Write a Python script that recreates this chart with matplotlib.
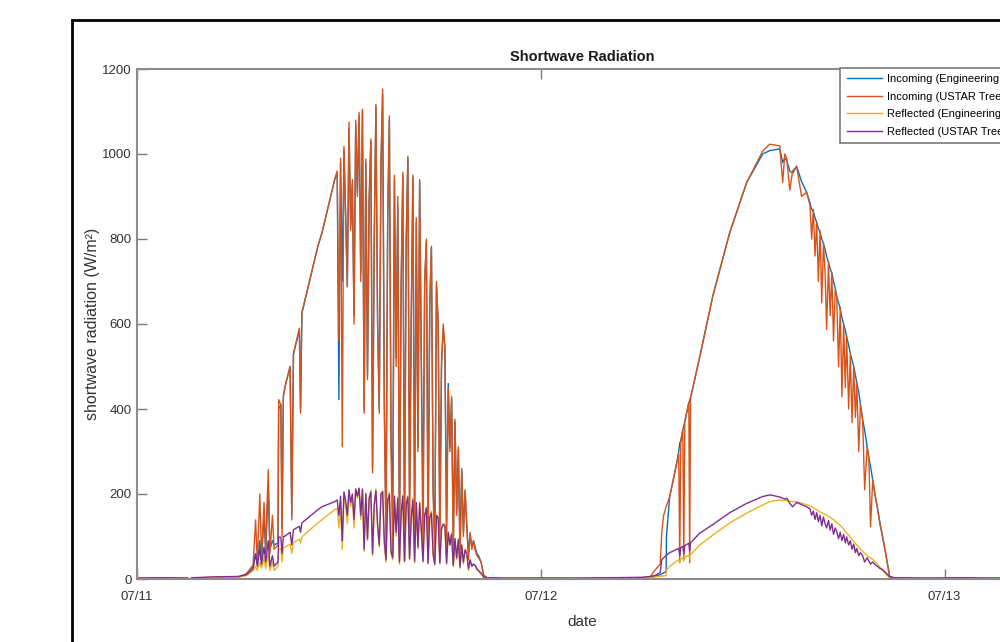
import matplotlib
matplotlib.use("Agg")
import matplotlib.pyplot as plt
from matplotlib.patches import Rectangle

# hours since 07/11 00:00, values in W/m^2
hours_day1 = [0.0, 1.5, 3.0, 3.1, 3.3, 4.5, 6.0, 6.5, 6.9, 7.05, 7.15, 7.3, 7.4, 7.55, 7.65, 7.8, 7.9,
              8.05, 8.15, 8.38, 8.42, 8.55, 8.62, 8.7, 8.8, 9.1, 9.2, 9.3, 9.65, 9.72, 9.8, 10.75,
              11.0, 11.75, 11.9,
              12.0, 12.1, 12.2, 12.3, 12.4, 12.5, 12.6, 12.7, 12.8, 12.9,
              13.0, 13.1, 13.2, 13.3, 13.4, 13.5, 13.6, 13.7, 13.8, 13.9,
              14.0, 14.1, 14.2, 14.3, 14.4, 14.5, 14.6, 14.7, 14.8, 14.9,
              15.0, 15.1, 15.2, 15.3, 15.4, 15.5, 15.6, 15.7, 15.8, 15.9,
              16.0, 16.1, 16.2, 16.3, 16.4, 16.5, 16.6, 16.7, 16.8, 16.9,
              17.0, 17.1, 17.2, 17.3, 17.4, 17.5, 17.6, 17.7, 17.8, 17.9,
              18.0, 18.1, 18.2, 18.3, 18.4, 18.5, 18.6, 18.7, 18.8, 18.9,
              19.0, 19.1, 19.2, 19.3, 19.4, 19.5, 19.6, 19.7, 19.8, 19.9,
              20.0, 20.1, 20.2, 20.3, 20.45, 20.6, 20.8, 22.0]
inc_eng_day1 = [3, 3, 2, -2, 3, 3, 4, 12, 30, 60, 35, 90, 40, 150, 60, 220, 70,
                90, 80, 85, 400, 410, 120, 430, 453, 500, 150, 530, 585, 400, 625, 783,
                815, 940, 955,
                422, 980, 700, 1010, 860, 688, 1060, 830, 930, 620,
                1070, 910, 1090, 720, 1100, 400, 980, 480, 890, 1030,
                260, 790, 1110, 610, 400, 970, 1140, 420, 120, 840,
                1080, 320, 200, 940, 520, 880, 95, 690, 950, 120,
                790, 990, 200, 620, 945, 160, 840, 310, 935, 520,
                160, 700, 795, 120, 640, 780, 220, 95, 690, 600,
                135, 510, 590, 545, 140, 460, 310, 425, 95, 370,
                160, 305, 80, 255, 110, 205, 130, 60, 105, 75,
                90, 75, 60, 55, 40, 8, 3, 3]
inc_ustar_day1 = [3, 2, 3, -3, 3, 3, 4, 12, 33, 139, 40, 200, 50, 180, 70, 257, 60,
                  150, 70, 80, 422, 410, 100, 430, 453, 500, 139, 530, 590, 390, 627, 783,
                  815, 940, 960,
                  560, 990, 311, 1018, 850, 688, 1075, 820, 940, 600,
                  1080, 900, 1098, 700, 1105, 390, 988, 469, 900, 1035,
                  250, 800, 1117, 600, 390, 980, 1153, 400, 70, 850,
                  1090, 300, 60, 950, 500, 900, 50, 700, 957, 45,
                  800, 995, 80, 600, 950, 60, 850, 300, 940, 500,
                  50, 700, 800, 40, 650, 783, 200, 50, 700, 603,
                  45, 500, 600, 548, 60, 450, 300, 430, 40, 376,
                  150, 311, 40, 260, 100, 210, 123, 45, 110, 70,
                  90, 68, 55, 50, 40, 10, 3, 2]
ref_eng_day1 = [2, 2, 2, 0, 2, 4, 4, 8, 20, 30, 20, 40, 25, 50, 25, 60, 20,
                40, 20, 30, 70, 72, 40, 74, 75, 82, 60, 86, 94, 85, 99, 132,
                140, 163, 166,
                120, 170, 70, 190, 175, 130, 205, 170, 195, 120,
                210, 190, 212, 140, 210, 65, 203, 90, 190, 208,
                55, 170, 212, 120, 75, 200, 208, 80, 40, 180,
                203, 60, 45, 195, 100, 193, 35, 150, 198, 40,
                170, 196, 45, 140, 190, 38, 180, 70, 182, 110,
                40, 150, 170, 35, 145, 160, 55, 33, 150, 148,
                35, 120, 130, 130, 35, 110, 80, 110, 30, 95,
                45, 95, 25, 80, 35, 70, 62, 20, 45, 30,
                35, 32, 22, 18, 12, 4, 2, 3]
ref_ustar_day1 = [2, 3, 2, 0, 3, 5, 6, 10, 24, 60, 30, 70, 35, 75, 40, 90, 30,
                  55, 30, 40, 99, 98, 60, 100, 101, 110, 80, 116, 124, 110, 132, 163,
                  170, 182, 186,
                  150, 195, 90, 205, 185, 150, 210, 180, 200, 140,
                  212, 195, 214, 150, 212, 70, 200, 95, 190, 205,
                  60, 175, 208, 130, 80, 200, 205, 90, 45, 185,
                  200, 65, 50, 195, 110, 190, 40, 155, 195, 42,
                  175, 193, 48, 145, 186, 42, 180, 75, 178, 115,
                  42, 150, 166, 38, 145, 155, 60, 35, 150, 143,
                  38, 118, 128, 125, 37, 110, 80, 105, 32, 95,
                  50, 92, 28, 80, 40, 68, 60, 25, 45, 30,
                  35, 32, 24, 20, 14, 5, 3, 2]

hours_day2 = [24.0, 26.0, 28.0, 30.0, 30.5, 30.77, 31.1, 31.19, 31.3, 31.45, 31.47, 31.66, 32.08,
              32.2, 32.26, 32.32, 32.44, 32.5, 32.56, 32.8, 32.85, 32.9, 32.97, 33.45, 34.22,
              35.23, 36.24, 37.19, 37.61, 38.2, 38.38, 38.5, 38.62, 38.8, 38.97, 39.21, 39.5, 39.8,
              40.0, 40.1, 40.2, 40.3, 40.4, 40.5, 40.6, 40.7, 40.8, 40.9, 40.99,
              41.1, 41.2, 41.3, 41.4, 41.5, 41.59, 41.7, 41.8, 41.9, 42.0, 42.1, 42.18,
              42.3, 42.4, 42.5, 42.6, 42.7, 42.78, 42.9, 43.0, 43.13, 43.25, 43.4, 43.5,
              43.6, 43.73, 43.9, 44.0, 44.15, 44.32, 44.5, 44.74,
              45.0, 47.0, 49.0, 51.0, 53.0]
inc_eng_day2 = [3, 2, 3, 3, 4, 6, 10, 12, 14, 18, 100, 193, 273,
                300, 320, 325, 351, 360, 370, 415, 420, 428, 438, 523, 665,
                815, 933, 1000, 1008, 1012, 980, 990, 985, 960, 955, 971, 935, 910,
                885, 870, 865, 850, 839, 825, 815, 800, 790, 775, 759,
                745, 730, 720, 700, 685, 665, 650, 635, 615, 600, 585, 570,
                550, 530, 515, 500, 480, 462, 440, 410, 375, 350, 310, 285,
                265, 233, 190, 170, 135, 99, 60, 5,
                3, 3, 2, 3, 3]
inc_ustar_day2 = [3, 3, 2, 3, 5, 20, 35, 110, 150, 170, 172, 193, 273,
                  295, 38, 320, 351, 45, 370, 415, 38, 428, 438, 523, 665,
                  815, 933, 1007, 1023, 1019, 933, 1000, 990, 915, 960, 971, 900, 910,
                  880, 800, 870, 760, 839, 700, 820, 650, 790, 720, 587,
                  745, 620, 720, 560, 680, 665, 500, 640, 429, 600, 450, 570,
                  400, 530, 368, 500, 380, 462, 300, 410, 375, 210, 310, 285,
                  123, 233, 190, 170, 130, 99, 60, 5,
                  3, 2, 3, 3, 3]
ref_eng_day2 = [2, 3, 2, 3, 4, 5, 6, 7, 7, 8, 21, 30, 42,
                45, 40, 47, 50, 42, 52, 56, 48, 58, 60, 80, 103,
                132, 155, 174, 182, 186, 184, 186, 185, 183, 182, 182, 178, 175,
                172, 170, 168, 165, 163, 160, 158, 156, 154, 152, 150,
                147, 145, 142, 140, 136, 133, 130, 126, 122, 118, 112, 108,
                103, 98, 93, 88, 84, 80, 75, 70, 65, 60, 55, 52,
                50, 46, 40, 35, 28, 20, 12, 3,
                2, 3, 2, 3, 2]
ref_ustar_day2 = [2, 2, 3, 4, 6, 8, 15, 45, 50, 55, 56, 62, 70,
                  72, 55, 74, 77, 60, 79, 84, 66, 86, 88, 108, 128,
                  156, 178, 194, 198, 193, 190, 188, 190, 178, 170, 180, 175, 170,
                  165, 150, 160, 140, 156, 135, 150, 125, 146, 130, 120,
                  138, 115, 130, 105, 120, 112, 95, 110, 90, 105, 85, 99,
                  80, 90, 70, 82, 62, 72, 55, 62, 55, 40, 50, 42,
                  35, 40, 33, 30, 25, 22, 15, 5,
                  3, 2, 3, 2, 3]

series_labels = ["Incoming (Engineering Tower)", "Incoming (USTAR Tree)",
                 "Reflected (Engineering Tower)", "Reflected (USTAR Tree)"]
series_colors = ["#0072BD", "#D95319", "#EDB120", "#7E2F8E"]
date_ticks = [0, 24, 48]
date_labels = ["07/11", "07/12", "07/13"]
y_ticks = [0, 200, 400, 600, 800, 1000, 1200]

plt.rcParams["font.family"] = ["Liberation Sans", "DejaVu Sans"]

hours = hours_day1 + hours_day2
all_series = [inc_eng_day1 + inc_eng_day2, inc_ustar_day1 + inc_ustar_day2,
              ref_eng_day1 + ref_eng_day2, ref_ustar_day1 + ref_ustar_day2]

fig = plt.figure(figsize=(10, 6.42), dpi=100)
# axes runs off the right edge of the picture, like the cropped screenshot
ax = fig.add_axes([0.137, 63 / 642, 0.890, 510 / 642])

handles = []
for vals, lab, col in zip(all_series, series_labels, series_colors):
    h, = ax.plot(hours, vals, color=col, lw=1.0, label=lab)
    handles.append(h)

ax.set_xlim(0, 52.9)
ax.set_ylim(0, 1200)
ax.set_xticks(date_ticks)
ax.set_xticklabels(date_labels)
ax.set_yticks(y_ticks)
ax.tick_params(direction="in", top=True, right=True, length=7, width=1.0,
               color="#7a7a7a", labelcolor="#333333", labelsize=9.5)
ax.tick_params(axis="y", pad=4)
ax.tick_params(axis="x", pad=9)
for sp in ax.spines.values():
    sp.set_color("#8c8c8c")
    sp.set_linewidth(1.5)

ax.set_title("Shortwave Radiation", fontsize=10.5, fontweight="bold", color="#1a1a1a", pad=6)
ax.set_xlabel("date", fontsize=11, color="#333333", labelpad=8)
ax.set_ylabel("shortwave radiation (W/m²)", fontsize=11.5, color="#333333", labelpad=1)

leg = fig.legend(handles=handles, loc="upper left", bbox_to_anchor=(0.840, 1 - 67.5 / 642),
                 fontsize=8, frameon=True, fancybox=False, borderaxespad=0,
                 handlelength=3.15, handletextpad=0.5, labelspacing=0.68, borderpad=0.6)
leg.get_frame().set_edgecolor("#7a7a7a")
leg.get_frame().set_linewidth(1.2)
leg.get_frame().set_alpha(1)

# black window frame around the figure
fig.patches.append(Rectangle((0.072, -0.1), 1.0, 1.1 - 20 / 642, transform=fig.transFigure,
                             fill=False, edgecolor="black", lw=2.0, clip_on=False))

fig.savefig("out.png", dpi=100)
